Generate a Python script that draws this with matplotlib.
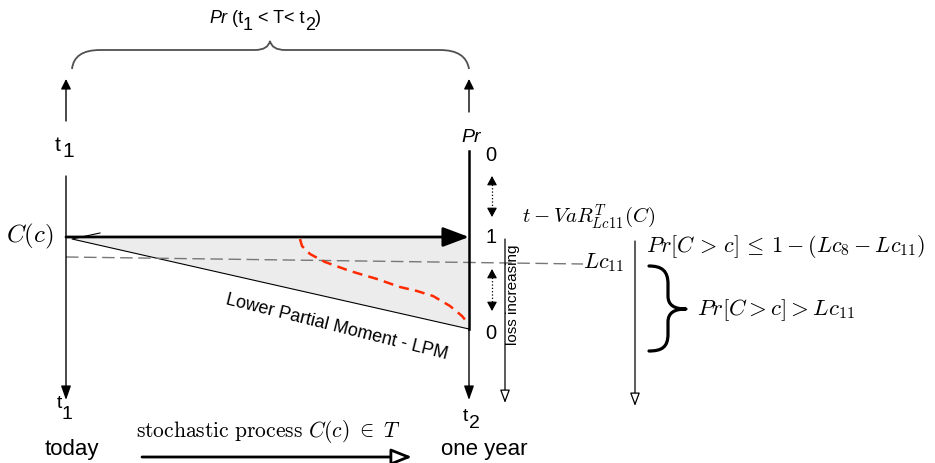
import matplotlib
matplotlib.use("Agg")
import matplotlib.pyplot as plt
from matplotlib.path import Path
from matplotlib.patches import PathPatch, Polygon

plt.rcParams['font.family'] = ['Liberation Sans', 'DejaVu Sans']
plt.rcParams['mathtext.fontset'] = 'custom'
plt.rcParams['mathtext.rm'] = 'Liberation Sans'
plt.rcParams['mathtext.it'] = 'Liberation Sans:italic'

# diagram nodes, in pixels (y grows downwards)
x_today = 66
x_year = 469
y_cc = 238
lc11_x = [66, 583]
lc11_y = [258, 265]
lpm_triangle = [(72, 240), (469, 239), (469, 330)]
lpm_edge_x = [100, 72, 469]
lpm_edge_y = [234, 240, 330]

# red dashed path of the process
red_x = [300, 302, 310, 325, 350, 377, 400, 417, 433, 450, 462, 467]
red_y = [240, 247, 255, 263, 272, 280, 288, 292, 297, 307, 317, 323]

# probability scale on the right axis
pr_ticks = ['0', '1', '0']
pr_tick_y = [156, 238, 334]

# title pieces: (text, italic, lowered)
title_parts = [('Pr', True, False), (' (t', False, False), ('1', False, True),
               (' < T< t', False, False), ('2', False, True), (')', False, False)]

# braces (quadratic / cubic control points)
top_brace = [(72, 70), (74, 51), (100, 51), (255, 51), (268, 51), (270, 42),
             (270, 42), (272, 51), (285, 51), (440, 51), (466, 51), (469, 70)]
right_brace = [(649, 267), (662, 267), (668, 272), (668, 285), (668, 297),
               (668, 306), (674, 310), (686, 310),
               (674, 310), (668, 314), (668, 323), (668, 335),
               (668, 348), (662, 352), (649, 352)]


def arrow(x0, y0, x1, y1, lw=1.0, hl=0.6, hw=0.3, fc='k'):
    ax.annotate('', xy=(x1, y1), xytext=(x0, y0),
                arrowprops=dict(arrowstyle=f'-|>,head_length={hl},head_width={hw}',
                                lw=lw, ec='k', fc=fc, shrinkA=0, shrinkB=0,
                                mutation_scale=10))


fig = plt.figure(figsize=(9.35, 4.64), dpi=100)
ax = fig.add_axes([0, 0, 1, 1])
ax.set_xlim(0, 935)
ax.set_ylim(464, 0)
ax.axis('off')

# top brace and label
codes = [Path.MOVETO, Path.CURVE3, Path.CURVE3,
         Path.LINETO, Path.CURVE3, Path.CURVE3,
         Path.LINETO, Path.CURVE3, Path.CURVE3,
         Path.LINETO, Path.CURVE3, Path.CURVE3]
ax.add_patch(PathPatch(Path(top_brace, codes), fc='none', ec='#505050', lw=1.3))

prev = ax.text(209, 27, title_parts[0][0], fontsize=13, style='italic',
               ha='left', va='bottom')
low = False
for txt, ital, lowered in title_parts[1:]:
    dy = 0
    if lowered and not low:
        dy = -5
    elif low and not lowered:
        dy = 5
    prev = ax.annotate(txt, xy=(1, 0), xycoords=prev, xytext=(0, dy),
                       textcoords='offset points', fontsize=13,
                       style='italic' if ital else 'normal',
                       ha='left', va='bottom')
    low = lowered

# up arrows above t1 / Pr
arrow(x_today, 122, x_today, 80, lw=1.0, hl=0.6, hw=0.3)
arrow(x_year, 113, x_year, 80, lw=1.0, hl=0.6, hw=0.3)

# time axis labels
ax.text(58, 146, 't', fontsize=15, ha='center', va='center')
ax.text(68, 152, '1', fontsize=15, ha='center', va='center')
ax.text(59, 404, 't', fontsize=14, ha='center', va='center')
ax.text(67, 415, '1', fontsize=14, ha='center', va='center')
ax.text(465, 417, 't', fontsize=14, ha='center', va='center')
ax.text(474, 424, '2', fontsize=14, ha='center', va='center')
ax.text(471, 138, 'Pr', fontsize=14, style='italic', ha='center', va='center')

# grey LPM area
ax.add_patch(Polygon(lpm_triangle, closed=True, fc='#ececec', ec='none'))
ax.plot(lpm_edge_x, lpm_edge_y, color='k', lw=0.8)

# Lc11 level line
ax.plot(lc11_x, lc11_y, color='#777777', lw=1.0, dashes=(9, 4))

# red dashed path
ax.plot(red_x, red_y, color='#ff2a00', lw=1.8, dashes=(4, 2.5))

# vertical axes
arrow(x_today, 177, x_today, 401, lw=1.0, hl=0.85, hw=0.3)
ax.plot([x_year, x_year], [152, 330], color='k', lw=1.8)
arrow(x_year, 329, x_year, 401, lw=1.0, hl=0.85, hw=0.3)

# main C(c) arrow
arrow(x_today, y_cc, x_year, y_cc, lw=2.0, hl=1.6, hw=0.6)
ax.text(30, 236, r'$C(c)$', fontsize=18, ha='center', va='center',
        math_fontfamily='cm')

# probability ticks and dotted double arrows
for lab, yy in zip(pr_ticks, pr_tick_y):
    ax.text(491, yy, lab, fontsize=14.5, ha='center', va='center')
for y_a, y_b in [(177, 218), (270, 312)]:
    ax.plot([492, 492], [y_a + 5, y_b - 5], color='k', lw=0.9, ls=':')
    arrow(492, y_a + 6, 492, y_a, lw=0.8, hl=0.55, hw=0.3)
    arrow(492, y_b - 6, 492, y_b, lw=0.8, hl=0.55, hw=0.3)

ax.text(337, 327, 'Lower Partial Moment - LPM', fontsize=13, rotation=-14,
        ha='center', va='center', rotation_mode='anchor')

# loss increasing
arrow(505, 240, 505, 404, lw=0.9, hl=0.8, hw=0.3, fc='white')
ax.text(513, 295, 'loss increasing', fontsize=11, rotation=90,
        ha='center', va='center')

ax.text(589, 217, r'$t - VaR^{T}_{Lc11}(C)$', fontsize=15, ha='center',
        va='center', math_fontfamily='cm')
ax.text(604, 263, r'$Lc_{11}$', fontsize=16, ha='center', va='center',
        math_fontfamily='cm')

# right hand conditions
arrow(635, 242, 635, 407, lw=0.9, hl=0.8, hw=0.3, fc='white')
ax.text(646, 246, r'$Pr[C\,>\,c]\,\leq\,1 - (Lc_8 - Lc_{11})$', fontsize=16,
        ha='left', va='center', math_fontfamily='cm')
codes_rb = [Path.MOVETO, Path.CURVE4, Path.CURVE4, Path.CURVE4, Path.LINETO,
            Path.CURVE4, Path.CURVE4, Path.CURVE4,
            Path.CURVE4, Path.CURVE4, Path.CURVE4, Path.LINETO,
            Path.CURVE4, Path.CURVE4, Path.CURVE4]
ax.add_patch(PathPatch(Path(right_brace, codes_rb), fc='none', ec='k', lw=2.3,
                       capstyle='round', joinstyle='round'))
ax.text(697, 310, r'$Pr[C > c] > Lc_{11}$', fontsize=16.5, ha='left',
        va='center', math_fontfamily='cm')

# bottom: today -> one year
ax.text(72, 450, 'today', fontsize=16, ha='center', va='center')
ax.text(484, 450, 'one year', fontsize=16, ha='center', va='center')
ax.text(269, 432, r'$\mathrm{stochastic\ process}\ C(c)\ \in\ T$', fontsize=15.5,
        ha='center', va='center', math_fontfamily='cm')
arrow(142, 458, 412, 458, lw=2.0, hl=1.25, hw=0.5, fc='white')

fig.savefig('out.png', dpi=100)
